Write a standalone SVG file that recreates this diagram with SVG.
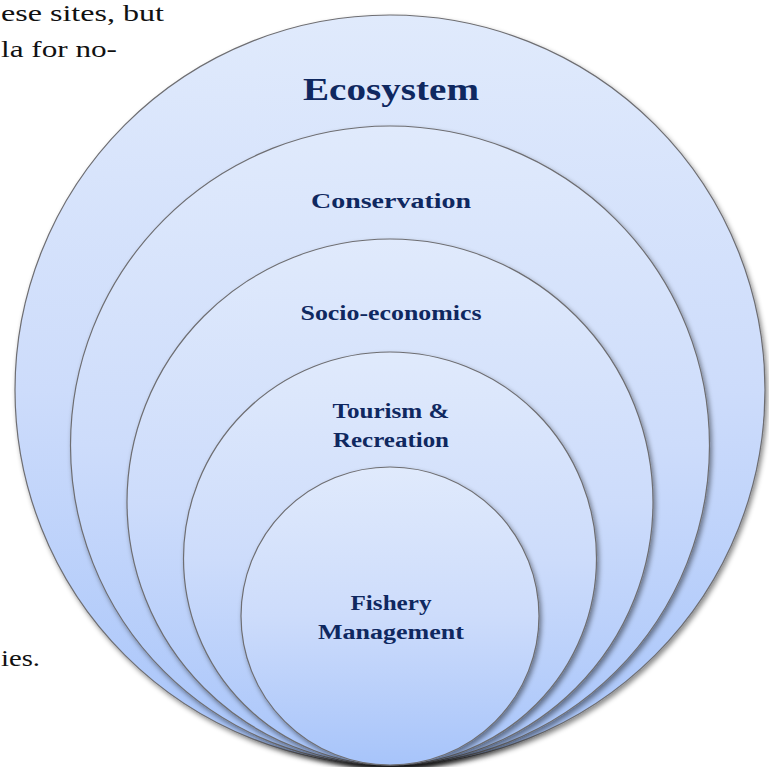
<svg xmlns="http://www.w3.org/2000/svg" width="769" height="767" viewBox="0 0 769 767">
  <defs>
    <linearGradient id="g" x1="0" y1="0" x2="0" y2="1">
      <stop offset="0" stop-color="#e0eafc"/>
      <stop offset="0.5" stop-color="#cddcfb"/>
      <stop offset="1" stop-color="#a7c4fa"/>
    </linearGradient>
    <filter id="sh" x="-10%" y="-10%" width="125%" height="125%">
      <feDropShadow dx="2" dy="3" stdDeviation="2.5" flood-color="#000" flood-opacity="0.45"/>
    </filter>
  </defs>
  <style>
    .c{fill:url(#g);stroke:#6e6e72;stroke-width:1.2;filter:url(#sh)}
    .t{font-family:"Liberation Serif","DejaVu Serif",serif;font-weight:bold;fill:#0f2860;text-anchor:middle}
    .bg{font-family:"Liberation Serif","DejaVu Serif",serif;font-size:24px;fill:#111}
  </style>
  <rect width="769" height="767" fill="#fff"/>
  <g id="background-text">
    <text class="bg" x="1" y="21" textLength="163" lengthAdjust="spacingAndGlyphs">ese sites, but</text>
    <text class="bg" x="1" y="57" textLength="116" lengthAdjust="spacingAndGlyphs">la for no-</text>
    <text class="bg" x="1" y="666" textLength="39" lengthAdjust="spacingAndGlyphs">ies.</text>
  </g>
  <g id="ecosystem">
    <circle class="c" cx="390" cy="390" r="375"/>
    <text class="t" x="391" y="100" font-size="32" textLength="176" lengthAdjust="spacingAndGlyphs">Ecosystem</text>
  </g>
  <g id="conservation">
    <circle class="c" cx="390" cy="445.5" r="319.5"/>
    <text class="t" x="391" y="208" font-size="21" textLength="160" lengthAdjust="spacingAndGlyphs">Conservation</text>
  </g>
  <g id="socio-economics">
    <circle class="c" cx="390" cy="502" r="263"/>
    <text class="t" x="391" y="320" font-size="20" textLength="181" lengthAdjust="spacingAndGlyphs">Socio-economics</text>
  </g>
  <g id="tourism">
    <circle class="c" cx="390" cy="558.5" r="206.5"/>
    <text class="t" x="391" y="418" font-size="20" textLength="117" lengthAdjust="spacingAndGlyphs">Tourism &amp;</text>
    <text class="t" x="391" y="447" font-size="20" textLength="116" lengthAdjust="spacingAndGlyphs">Recreation</text>
  </g>
  <g id="fishery">
    <circle class="c" cx="390" cy="616" r="149"/>
    <text class="t" x="391" y="610" font-size="20" textLength="81" lengthAdjust="spacingAndGlyphs">Fishery</text>
    <text class="t" x="391" y="639" font-size="20" textLength="146" lengthAdjust="spacingAndGlyphs">Management</text>
  </g>
</svg>
